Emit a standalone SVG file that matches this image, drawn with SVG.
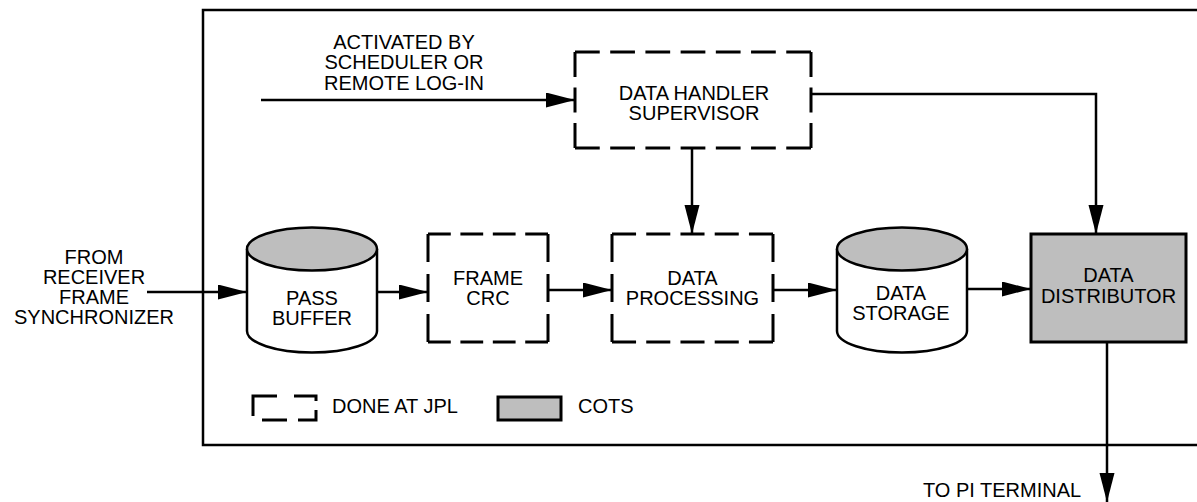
<svg xmlns="http://www.w3.org/2000/svg" width="1197" height="502" viewBox="0 0 1197 502">
  <style>
    text { font-family: "Liberation Sans", Arial, sans-serif; font-size: 20px; fill: #000; text-anchor: middle; }
    .frame { fill: none; stroke: #000; stroke-width: 2.5; }
    .fill { fill: #fff; stroke: none; }
    .dash { fill: none; stroke: #000; stroke-width: 3; stroke-dasharray: 26 11; }
    .cots { fill: #bebebe; stroke: #000; stroke-width: 3; }
    .cyl { fill: #fff; stroke: #000; stroke-width: 2.5; }
    .cyltop { fill: #bebebe; stroke: #000; stroke-width: 2.5; }
    .wire { fill: none; stroke: #000; stroke-width: 2.5; marker-end: url(#arrow); }
    .legend { fill: none; stroke: #000; stroke-width: 3; }
  </style>
  <defs>
    <marker id="arrow" markerUnits="userSpaceOnUse" markerWidth="30" markerHeight="16" refX="29" refY="7.5" orient="auto">
      <path d="M0,0 L29,7.5 L0,15 Z" fill="#000"/>
    </marker>
  </defs>

  <rect width="1197" height="502" fill="#fff"/>

  <!-- system boundary (continues past the right edge) -->
  <path class="frame" d="M1200,10 H203 V445 H1200"/>

  <!-- connectors -->
  <g id="connectors">
    <path class="wire" d="M147,292 H247"/>
    <path class="wire" d="M377,292 H428"/>
    <path class="wire" d="M548,290 H612"/>
    <path class="wire" d="M773,290 H837"/>
    <path class="wire" d="M967,289 H1031"/>
    <path class="wire" d="M261,100 H575"/>
    <path class="wire" d="M692,148 V234"/>
    <path class="wire" d="M811,94 H1096 V234"/>
    <path class="wire" d="M1107,342 V502"/>
  </g>

  <!-- external labels -->
  <g id="source-label">
    <text x="94" y="263.5">FROM</text>
    <text x="94" y="283.5">RECEIVER</text>
    <text x="94" y="303.5">FRAME</text>
    <text x="94" y="323.5">SYNCHRONIZER</text>
  </g>
  <g id="activation-label">
    <text x="404" y="48.5">ACTIVATED BY</text>
    <text x="404" y="69">SCHEDULER OR</text>
    <text x="404" y="89.5">REMOTE LOG-IN</text>
  </g>
  <g id="sink-label">
    <text x="1002" y="497">TO PI TERMINAL</text>
  </g>

  <!-- nodes; dashed edges are drawn one side at a time so every corner is solid -->
  <g id="pass-buffer">
    <path class="cyl" d="M247,249 V331 A65,21.5 0 0 0 377,331 V249"/>
    <ellipse class="cyltop" cx="312" cy="249" rx="65" ry="21.5"/>
    <text x="312" y="305">PASS</text>
    <text x="312" y="325">BUFFER</text>
  </g>

  <g id="frame-crc">
    <rect class="fill" x="428" y="234" width="120" height="108"/>
    <path class="dash" d="M428,234 H548" pathLength="137"/>
    <path class="dash" d="M428,342 H548" pathLength="137"/>
    <path class="dash" d="M428,234 V342" pathLength="100"/>
    <path class="dash" d="M548,234 V342" pathLength="100"/>
    <text x="488" y="285">FRAME</text>
    <text x="488" y="305">CRC</text>
  </g>

  <g id="data-processing">
    <rect class="fill" x="612" y="234" width="161" height="108"/>
    <path class="dash" d="M612,234 H773" pathLength="174"/>
    <path class="dash" d="M612,342 H773" pathLength="174"/>
    <path class="dash" d="M612,234 V342" pathLength="100"/>
    <path class="dash" d="M773,234 V342" pathLength="100"/>
    <text x="692.5" y="285">DATA</text>
    <text x="692.5" y="305">PROCESSING</text>
  </g>

  <g id="data-storage">
    <path class="cyl" d="M837,249 V331 A65,21.5 0 0 0 967,331 V249"/>
    <ellipse class="cyltop" cx="902" cy="249" rx="65" ry="21.5"/>
    <text x="901" y="300">DATA</text>
    <text x="901" y="320">STORAGE</text>
  </g>

  <g id="data-distributor">
    <rect class="cots" x="1031" y="234" width="155" height="108"/>
    <text x="1108.5" y="282">DATA</text>
    <text x="1108.5" y="303">DISTRIBUTOR</text>
  </g>

  <g id="data-handler-supervisor">
    <rect class="fill" x="575" y="52" width="236" height="96"/>
    <path class="dash" d="M575,52 H811" pathLength="248"/>
    <path class="dash" d="M575,148 H811" pathLength="248"/>
    <path class="dash" d="M575,52 V148" pathLength="100"/>
    <path class="dash" d="M811,52 V148" pathLength="100"/>
    <text x="694" y="100">DATA HANDLER</text>
    <text x="694" y="120">SUPERVISOR</text>
  </g>

  <!-- key -->
  <g id="legend">
    <path class="legend" d="M253,416 V396 H277"/>
    <path class="legend" d="M294,396 H316 V401"/>
    <path class="legend" d="M262,420 H287"/>
    <path class="legend" d="M298,420 H316 V410"/>
    <text x="332" y="413" style="text-anchor:start">DONE AT JPL</text>
    <rect class="cots" x="498" y="397" width="63" height="23"/>
    <text x="578" y="413" style="text-anchor:start">COTS</text>
  </g>
</svg>
